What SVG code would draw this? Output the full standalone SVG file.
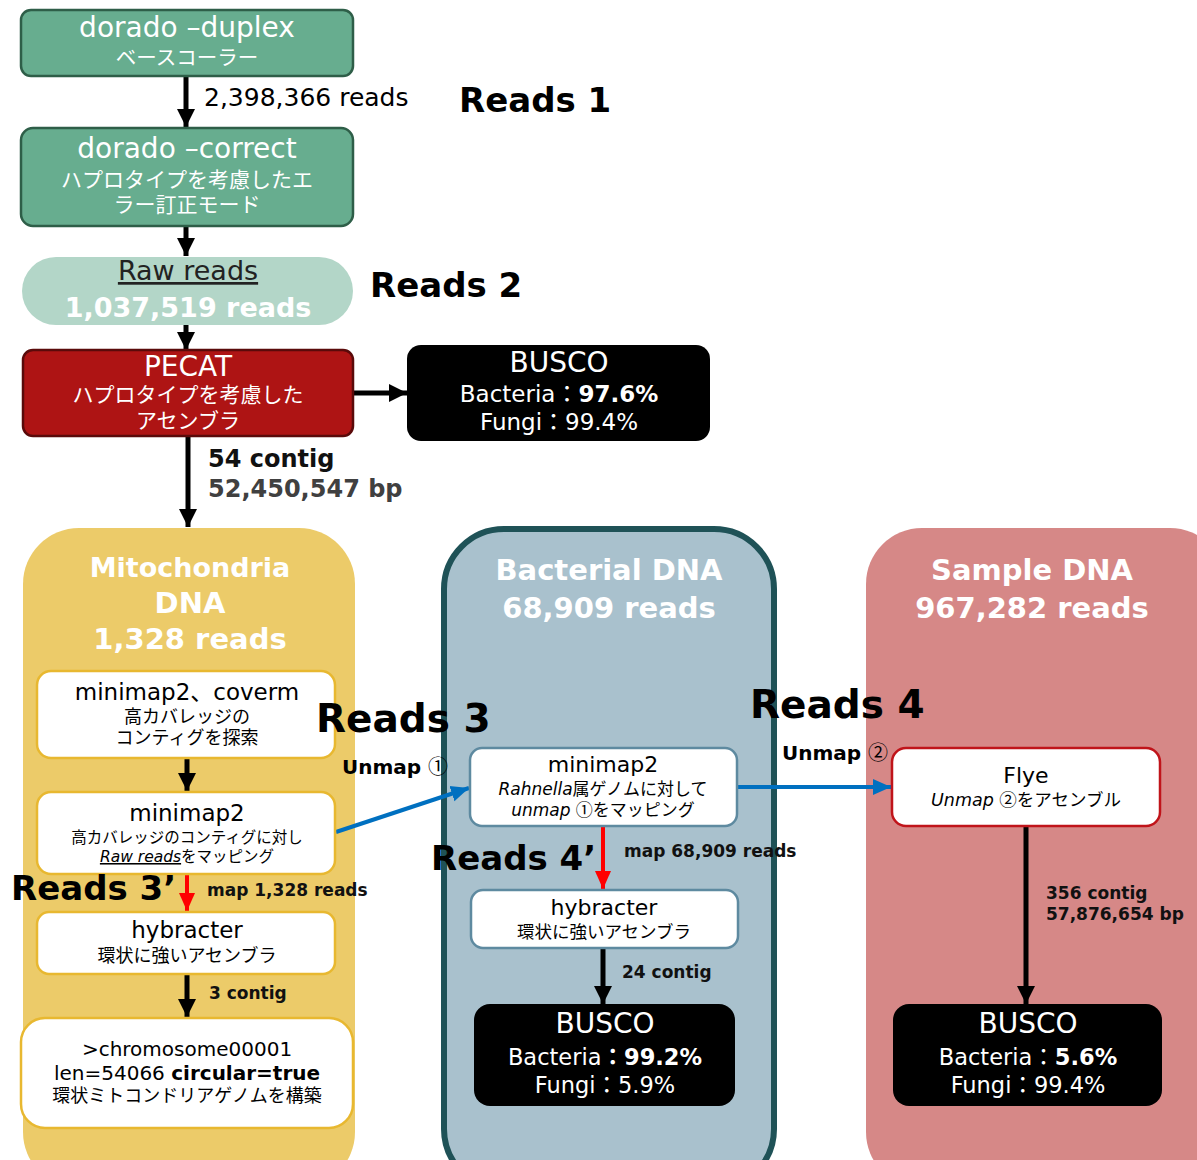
<svg xmlns="http://www.w3.org/2000/svg" width="1197" height="1160" viewBox="0 0 1197 1160">
<defs>
<style>
text{font-family:"DejaVu Sans","Noto Sans CJK JP",sans-serif;}
.c{text-anchor:middle;}
.w{fill:#fff;}
.b{font-weight:bold;}
.j{font-family:"Noto Sans CJK JP",sans-serif;}
.big{font-size:34px;font-weight:bold;fill:#000;}
.lbl{font-size:17px;font-weight:bold;fill:#111;}
.title{font-size:29px;font-weight:bold;fill:#fff;text-anchor:middle;}
.wbox{fill:#fff;stroke-width:2.5;}
.k{stroke:#000;stroke-width:5;fill:none;}
.r{stroke:#f00;stroke-width:4;fill:none;}
.bl{stroke:#0070C0;stroke-width:4;fill:none;}
</style>
<marker id="ak" markerUnits="userSpaceOnUse" markerWidth="20" markerHeight="20" viewBox="0 0 20 20" refX="18" refY="10" orient="auto"><path d="M0,1 L18,10 L0,19 Z" fill="#000"/></marker>
<marker id="ar" markerUnits="userSpaceOnUse" markerWidth="20" markerHeight="20" viewBox="0 0 20 20" refX="18" refY="10" orient="auto"><path d="M0,2 L18,10 L0,18 Z" fill="#f00"/></marker>
<marker id="ab" markerUnits="userSpaceOnUse" markerWidth="20" markerHeight="20" viewBox="0 0 20 20" refX="18" refY="10" orient="auto"><path d="M0,2 L18,10 L0,18 Z" fill="#0070C0"/></marker>
</defs>
<rect width="1197" height="1160" fill="#fff"/>

<!-- panels -->
<g id="panel-mito">
<rect x="23" y="528" width="332" height="660" rx="56" fill="#ECCB69"/>
<text class="title" x="190" y="577" style="font-size:27px">Mitochondria</text>
<text class="title" x="190" y="613">DNA</text>
<text class="title" x="190" y="649">1,328 reads</text>
</g>
<g id="panel-bact">
<rect x="444" y="529" width="330" height="660" rx="60" fill="#A9C1CD" stroke="#1F5257" stroke-width="6"/>
<text class="title" x="609" y="580">Bacterial DNA</text>
<text class="title" x="609" y="618">68,909 reads</text>
</g>
<g id="panel-sample">
<rect x="866" y="528" width="360" height="660" rx="56" fill="#D68887"/>
<text class="title" x="1032" y="580">Sample DNA</text>
<text class="title" x="1032" y="618">967,282 reads</text>
</g>

<!-- connectors -->
<g id="connectors">
<line class="k" x1="186" y1="76" x2="186" y2="127" marker-end="url(#ak)"/>
<line class="k" x1="186" y1="226" x2="186" y2="256" marker-end="url(#ak)"/>
<line class="k" x1="186" y1="325" x2="186" y2="350" marker-end="url(#ak)"/>
<line class="k" x1="353" y1="393" x2="407" y2="393" marker-end="url(#ak)"/>
<line class="k" x1="188" y1="436" x2="188" y2="527" marker-end="url(#ak)"/>
<line class="k" x1="187" y1="758" x2="187" y2="791" marker-end="url(#ak)"/>
<line class="r" x1="187" y1="874" x2="187" y2="911" marker-end="url(#ar)"/>
<line class="k" x1="187" y1="974" x2="187" y2="1017" marker-end="url(#ak)"/>
<line class="bl" x1="336" y1="832" x2="469" y2="788" marker-end="url(#ab)"/>
<line class="bl" x1="737" y1="787" x2="891" y2="787" marker-end="url(#ab)"/>
<line class="r" x1="603" y1="826" x2="603" y2="889" marker-end="url(#ar)"/>
<line class="k" x1="603" y1="948" x2="603" y2="1004" marker-end="url(#ak)"/>
<line class="k" x1="1026" y1="826" x2="1026" y2="1004" marker-end="url(#ak)"/>
</g>

<!-- nodes -->
<g id="duplex">
<rect x="21" y="10" width="332" height="66" rx="10" fill="#67AD8F" stroke="#2E5E48" stroke-width="2.5"/>
<text class="c w" x="187" y="37" font-size="28">dorado –duplex</text>
<text class="c w" x="187" y="65" font-size="20.5">ベースコーラー</text>
</g>
<g id="correct">
<rect x="21" y="128" width="332" height="98" rx="12" fill="#67AD8F" stroke="#2E5E48" stroke-width="2.5"/>
<text class="c w" x="187" y="158" font-size="28">dorado –correct</text>
<text class="c w" x="187" y="187" font-size="21">ハプロタイプを考慮したエ</text>
<text class="c w" x="187" y="212" font-size="21">ラー訂正モード</text>
</g>
<g id="rawreads">
<rect x="22" y="257" width="331" height="68" rx="34" fill="#B3D6C8"/>
<text class="c" x="188" y="280" font-size="27" fill="#222" text-decoration="underline">Raw reads</text>
<text class="c w b" x="188" y="317" font-size="27">1,037,519 reads</text>
</g>
<g id="pecat">
<rect x="23" y="350" width="330" height="86" rx="10" fill="#AE1414" stroke="#5A0A0A" stroke-width="2.5"/>
<text class="c w" x="188" y="376" font-size="28">PECAT</text>
<text class="c w" x="188" y="402" font-size="21">ハプロタイプを考慮した</text>
<text class="c w" x="188" y="428" font-size="21">アセンブラ</text>
</g>
<g id="busco1">
<rect x="407" y="345" width="303" height="96" rx="14" fill="#000"/>
<text class="c w" x="559" y="372" font-size="28">BUSCO</text>
<text class="c w" x="559" y="402" font-size="23">Bacteria：<tspan font-weight="bold">97.6%</tspan></text>
<text class="c w" x="559" y="430" font-size="23">Fungi：99.4%</text>
</g>

<g id="mito-cov">
<rect class="wbox" x="37" y="671" width="298" height="87" rx="14" stroke="#E8B830"/>
<text class="c" x="187" y="700" font-size="23">minimap2、coverm</text>
<text class="c" x="187" y="723" font-size="18">高カバレッジの</text>
<text class="c" x="187" y="744" font-size="18">コンティグを探索</text>
</g>
<g id="mito-map">
<rect class="wbox" x="37" y="792" width="298" height="82" rx="14" stroke="#E8B830"/>
<text class="c" x="187" y="821" font-size="23">minimap2</text>
<text class="c" x="187" y="843" font-size="15.5">高カバレッジのコンティグに対し</text>
<text class="c" x="187" y="862" font-size="15.5"><tspan font-style="italic" text-decoration="underline">Raw reads</tspan>をマッピング</text>
</g>
<g id="mito-hyb">
<rect class="wbox" x="37" y="912" width="298" height="62" rx="12" stroke="#E8B830"/>
<text class="c" x="187" y="938" font-size="23">hybracter</text>
<text class="c" x="187" y="962" font-size="18">環状に強いアセンブラ</text>
</g>
<g id="mito-chr">
<rect class="wbox" x="21" y="1018" width="332" height="110" rx="24" stroke="#E8B830"/>
<text class="c" x="187" y="1056" font-size="20">&gt;chromosome00001</text>
<text class="c" x="187" y="1080" font-size="20">len=54066 <tspan font-weight="bold">circular=true</tspan></text>
<text class="c" x="187" y="1102" font-size="18">環状ミトコンドリアゲノムを構築</text>
</g>

<g id="bact-map">
<rect class="wbox" x="470" y="748" width="267" height="78" rx="12" stroke="#5E8AA0"/>
<text class="c" x="603" y="772" font-size="22">minimap2</text>
<text class="c" x="603" y="795" font-size="17"><tspan font-style="italic">Rahnella</tspan>属ゲノムに対して</text>
<text class="c" x="603" y="816" font-size="17"><tspan font-style="italic">unmap</tspan> <tspan class="j">①</tspan>をマッピング</text>
</g>
<g id="bact-hyb">
<rect class="wbox" x="471" y="890" width="267" height="58" rx="12" stroke="#5E8AA0"/>
<text class="c" x="604" y="915" font-size="22">hybracter</text>
<text class="c" x="604" y="938" font-size="17.5">環状に強いアセンブラ</text>
</g>
<g id="busco2">
<rect x="474" y="1004" width="261" height="102" rx="16" fill="#000"/>
<text class="c w" x="605" y="1033" font-size="28">BUSCO</text>
<text class="c w" x="605" y="1065" font-size="22.5">Bacteria<tspan font-weight="bold">：99.2%</tspan></text>
<text class="c w" x="605" y="1093" font-size="22.5">Fungi：5.9%</text>
</g>

<g id="flye">
<rect class="wbox" x="892" y="748" width="268" height="78" rx="14" stroke="#C0141A"/>
<text class="c" x="1026" y="783" font-size="22">Flye</text>
<text class="c" x="1026" y="806" font-size="17.5"><tspan font-style="italic">Unmap</tspan> <tspan class="j">②</tspan>をアセンブル</text>
</g>
<g id="busco3">
<rect x="893" y="1004" width="269" height="102" rx="16" fill="#000"/>
<text class="c w" x="1028" y="1033" font-size="28">BUSCO</text>
<text class="c w" x="1028" y="1065" font-size="22.5">Bacteria：<tspan font-weight="bold">5.6%</tspan></text>
<text class="c w" x="1028" y="1093" font-size="22.5">Fungi：99.4%</text>
</g>

<!-- free labels -->
<g id="labels">
<text x="204" y="106" font-size="25">2,398,366 reads</text>
<text class="big" x="459" y="112">Reads 1</text>
<text class="big" x="370" y="297">Reads 2</text>
<text x="208" y="467" font-size="24" class="b" fill="#111">54 contig</text>
<text x="208" y="497" font-size="24" class="b" fill="#404040">52,450,547 bp</text>
<text class="big" x="316" y="732" style="font-size:39px">Reads 3</text>
<text x="342" y="774" font-size="20" class="b">Unmap <tspan class="j" font-weight="normal">①</tspan></text>
<text class="big" x="11" y="900">Reads 3’</text>
<text class="lbl" x="207" y="896">map 1,328 reads</text>
<text class="lbl" x="209" y="999">3 contig</text>
<text class="big" x="431" y="870">Reads 4’</text>
<text class="lbl" x="624" y="857">map 68,909 reads</text>
<text class="lbl" x="622" y="978">24 contig</text>
<text class="big" x="750" y="718" style="font-size:39px">Reads 4</text>
<text x="782" y="760" font-size="20" class="b">Unmap <tspan class="j" font-weight="normal">②</tspan></text>
<text class="lbl" x="1046" y="899">356 contig</text>
<text class="lbl" x="1046" y="920">57,876,654 bp</text>
</g>
</svg>
